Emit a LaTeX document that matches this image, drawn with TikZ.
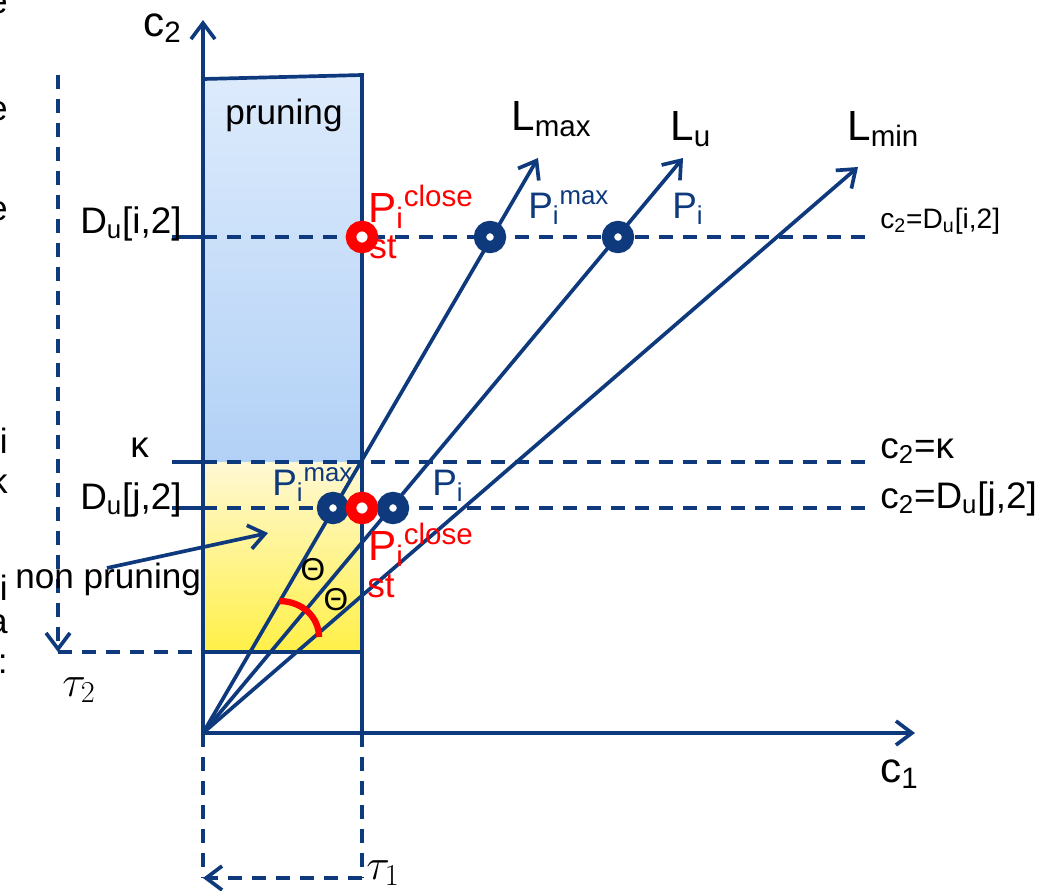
\documentclass[tikz,border=0pt]{standalone}
\usepackage{fontspec}
\setmainfont{Liberation Sans}
\usetikzlibrary{arrows.meta}
\definecolor{navy}{RGB}{14,58,125}
\definecolor{prunetop}{RGB}{221,235,252}
\definecolor{prunebot}{RGB}{178,209,246}
\definecolor{keeptop}{RGB}{255,248,212}
\definecolor{keepbot}{RGB}{255,240,72}
\newcommand{\pt}[2]{P\textsubscript{i}\textsuperscript{#2}}

\begin{document}
\begin{tikzpicture}[x=0.02cm, y=-0.02cm,
  font=\fontsize{20}{24}\selectfont,
  line/.style={draw=navy, line width=2.1pt},
  dline/.style={line, dash pattern=on 0.28cm off 0.2cm},
  arr/.style={-{Straight Barb[length=3.2mm, width=4.8mm]}},
  lbl/.style={anchor=base west, inner sep=0pt},
  big/.style={lbl, font=\fontsize{24}{28}\selectfont},
  mid/.style={lbl, font=\fontsize{21}{25}\selectfont},
  small/.style={lbl, font=\fontsize{16}{19}\selectfont},
  frag/.style={anchor=base east, inner sep=0pt},
  dot/.style={circle, draw=navy, fill=white, line width=7pt, minimum size=0.4cm, inner sep=0pt},
  rdot/.style={circle, draw=red, fill=white, line width=6pt, minimum size=0.44cm, inner sep=0pt}]
\useasboundingbox (0,0) rectangle (1050,890);

\coordinate (O) at (203,733);
\coordinate (c2tip) at (203,20);
\coordinate (c1tip) at (915,733);
\coordinate (tl) at (203,79);
\coordinate (tr) at (362,75);
\coordinate (br) at (362,733);
\coordinate (kl) at (203,462);
\coordinate (kr) at (362,462);
\coordinate (tau2r) at (362,652);
\coordinate (tau2a) at (203,652);
\coordinate (tau2l) at (58,652);
\coordinate (tau2top) at (58,75);
\coordinate (tau1a) at (203,878);
\coordinate (tau1b) at (362,878);
\coordinate (lmaxtip) at (538,158);
\coordinate (lutip) at (683,158);
\coordinate (lmintip) at (858,167);
\coordinate (tha) at (279,601);
\coordinate (thb) at (319,637);

\shade[top color=prunetop, bottom color=prunebot] (tl) -- (tr) -- (kr) -- (kl) -- cycle;
\shade[top color=keeptop, bottom color=keepbot] (kl) rectangle (tau2r);

\foreach \n/\y in {di/237, ka/462, dj/508} {
  \coordinate (\n L) at (172,\y);
  \coordinate (\n A) at (203,\y);
  \coordinate (\n R) at (865,\y);
  \draw[line] (\n L) -- (\n A);
  \draw[dline] (\n A) -- (\n R);
}

\draw[line] (tl) -- (tr) -- (br);
\draw[line] (tau2a) -- (tau2r);
\draw[dline, arr] (tau2top) -- (tau2l);
\draw[dline] (tau2l) -- (tau2a);
\draw[dline] (O) -- (tau1a);
\draw[dline] (br) -- (tau1b);
\draw[dline, arr] (tau1b) -- (tau1a);
\draw[line, arr] (O) -- (c2tip);
\draw[line, arr] (O) -- (c1tip);
\draw[line, arr] (O) -- (lmaxtip);
\draw[line, arr] (O) -- (lutip);
\draw[line, arr] (O) -- (lmintip);
\draw[red, line width=3.6pt] (tha) .. controls (302,601) and (319,617) .. (thb);

\node[dot] (pmaxi) at (490,237) {};
\node[dot] (pui) at (618,237) {};
\node[rdot] (pclosei) at (362,237) {};
\node[dot] (pmaxj) at (333,508) {};
\node[dot] (puj) at (393,508) {};
\node[rdot] (pclosej) at (362,508) {};

\node[lbl] (pruning) at (225,124) {pruning};
\node[lbl] (nonpruning) at (15,588) {non pruning};
\coordinate (npend) at (268,533);
\draw[line, arr] (107,568) -- (npend);

\node[big] (c2) at (143,36) {c\textsubscript{2}};
\node[big] (c1) at (880,782) {c\textsubscript{1}};
\node[mid] (dilbl) at (80,233) {D\textsubscript{u}[i,2]};
\node[mid] (kalbl) at (130,457) {κ};
\node[mid] (djlbl) at (80,509) {D\textsubscript{u}[j,2]};
\node[small] (direq) at (880,228) {c\textsubscript{2}=D\textsubscript{u}[i,2]};
\node[mid] (kareq) at (880,458) {c\textsubscript{2}=κ};
\node[mid] (djreq) at (880,508) {c\textsubscript{2}=D\textsubscript{u}[j,2]};

\node[big] (lmax) at (511,130) {L\textsubscript{max}};
\node[big] (lu) at (670,140) {L\textsubscript{u}};
\node[big] (lmin) at (847,140) {L\textsubscript{min}};

\node[mid, text=navy] (pmaxilbl) at (528,218) {\pt{i}{max}};
\node[mid, text=navy] (puilbl) at (672,218) {\pt{i}{}};
\node[big, text=red] (pcloseilbl) at (368,222) {\pt{i}{close}};
\node[lbl, text=red] (stilbl) at (369,258) {st};
\node[mid, text=navy] (pmaxjlbl) at (272,495) {\pt{i}{max}};
\node[mid, text=navy] (pujlbl) at (432,495) {\pt{i}{}};
\node[big, text=red] (pclosejlbl) at (368,560) {\pt{i}{close}};
\node[lbl, text=red] (stjlbl) at (367,597) {st};

\node[font=\fontsize{18}{21}\selectfont, inner sep=0pt] (th1) at (313,570) {Θ};
\node[font=\fontsize{18}{21}\selectfont, inner sep=0pt] (th2) at (336,600) {Θ};

\node[lbl, font=\fontsize{26}{30}\selectfont] (tau2) at (62,696) {$\tau_2$};
\node[lbl, font=\fontsize{26}{30}\selectfont] (tau1) at (366,879) {$\tau_1$};

\foreach \c/\y in {e/13, e/120, e/220, i/453, k/493, i/600, a/633, :/673}
  \node[frag] at (8,\y) {\c};
\end{tikzpicture}
\end{document}
